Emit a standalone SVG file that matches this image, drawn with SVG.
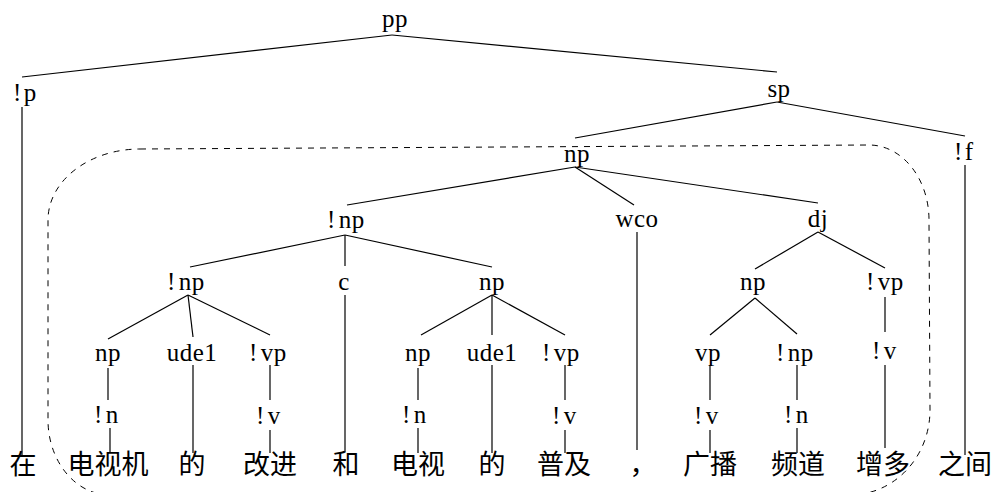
<svg xmlns="http://www.w3.org/2000/svg" width="992" height="492" viewBox="0 0 992 492">
<style>
.lab{font-family:"Liberation Serif","Times New Roman",serif;font-size:25px;fill:#000;letter-spacing:0.5px}
.m{text-anchor:middle}
.zh{font-family:"Noto Sans CJK SC","Noto Sans CJK TC",sans-serif;font-size:27px;fill:#000;text-anchor:middle}
.e line{stroke:#000;stroke-width:1.2}
.box{fill:none;stroke:#000;stroke-width:1;stroke-dasharray:6 6}
</style>
<rect width="992" height="492" fill="#fff"/>
<path class="box" d="M140,149 L870,145 A60,75 0 0 1 929,220 L930,410 A80,85 0 0 1 850,495 L110,495 A62,75 0 0 1 48,420 L48,220 A92,71 0 0 1 140,149 Z"/>
<g id="connectors" class="e">
<line x1="392" y1="35" x2="22" y2="77"/>
<line x1="392" y1="35" x2="777" y2="72"/>
<line x1="22" y1="107" x2="22" y2="455"/>
<line x1="777" y1="102" x2="575" y2="138"/>
<line x1="777" y1="102" x2="965" y2="136"/>
<line x1="965" y1="165" x2="965" y2="455"/>
<line x1="575" y1="167" x2="347" y2="205"/>
<line x1="575" y1="167" x2="634" y2="205"/>
<line x1="575" y1="167" x2="818" y2="203"/>
<line x1="345" y1="235" x2="190" y2="267"/>
<line x1="345" y1="235" x2="345" y2="266"/>
<line x1="345" y1="235" x2="492" y2="267"/>
<line x1="637" y1="232" x2="637" y2="450"/>
<line x1="818" y1="232" x2="755" y2="269"/>
<line x1="818" y1="232" x2="885" y2="268"/>
<line x1="188" y1="295" x2="108" y2="339"/>
<line x1="188" y1="295" x2="193" y2="337"/>
<line x1="188" y1="295" x2="270" y2="335"/>
<line x1="345" y1="295" x2="345" y2="452"/>
<line x1="492" y1="295" x2="421" y2="335"/>
<line x1="492" y1="295" x2="492" y2="335"/>
<line x1="492" y1="295" x2="565" y2="335"/>
<line x1="755" y1="298" x2="710" y2="335"/>
<line x1="755" y1="298" x2="797" y2="334"/>
<line x1="885" y1="297" x2="885" y2="332"/>
<line x1="108" y1="368" x2="108" y2="400"/>
<line x1="193" y1="365" x2="193" y2="453"/>
<line x1="270" y1="365" x2="270" y2="400"/>
<line x1="418" y1="368" x2="418" y2="400"/>
<line x1="492" y1="365" x2="492" y2="453"/>
<line x1="565" y1="365" x2="565" y2="400"/>
<line x1="710" y1="365" x2="710" y2="400"/>
<line x1="797" y1="365" x2="797" y2="400"/>
<line x1="885" y1="365" x2="885" y2="448"/>
<line x1="110" y1="428" x2="110" y2="453"/>
<line x1="270" y1="430" x2="270" y2="453"/>
<line x1="418" y1="428" x2="418" y2="453"/>
<line x1="565" y1="430" x2="565" y2="453"/>
<line x1="710" y1="430" x2="710" y2="453"/>
<line x1="797" y1="428" x2="797" y2="453"/>
</g>
<g id="n-pp"><text class="lab m" x="395" y="27">pp</text></g>
<g id="n-p"><text class="lab" x="13" y="101">!<tspan dx="2">p</tspan></text></g>
<g id="n-sp"><text class="lab m" x="779" y="97">sp</text></g>
<g id="n-f"><text class="lab" x="954" y="160">!<tspan dx="2">f</tspan></text></g>
<g id="n-np1"><text class="lab m" x="577" y="162">np</text></g>
<g id="n-np2"><text class="lab" x="327" y="228">!<tspan dx="3">np</tspan></text></g>
<g id="n-wco"><text class="lab m" x="637" y="227">wco</text></g>
<g id="n-dj"><text class="lab m" x="818" y="227">dj</text></g>
<g id="n-np3"><text class="lab" x="167" y="290">!<tspan dx="3">np</tspan></text></g>
<g id="n-c"><text class="lab m" x="344" y="290">c</text></g>
<g id="n-np4"><text class="lab m" x="492" y="290">np</text></g>
<g id="n-np5"><text class="lab m" x="753" y="290">np</text></g>
<g id="n-vp1"><text class="lab" x="866" y="290">!<tspan dx="3">vp</tspan></text></g>
<g id="n-np6"><text class="lab m" x="108" y="361">np</text></g>
<g id="n-ude1"><text class="lab m" x="192" y="361">ude1</text></g>
<g id="n-vp2"><text class="lab" x="249" y="361">!<tspan dx="3">vp</tspan></text></g>
<g id="n-np7"><text class="lab m" x="418" y="361">np</text></g>
<g id="n-ude2"><text class="lab m" x="492" y="361">ude1</text></g>
<g id="n-vp3"><text class="lab" x="542" y="361">!<tspan dx="3">vp</tspan></text></g>
<g id="n-vp4"><text class="lab m" x="708" y="361">vp</text></g>
<g id="n-np8"><text class="lab" x="776" y="361">!<tspan dx="3">np</tspan></text></g>
<g id="n-v1"><text class="lab" x="872" y="359">!<tspan dx="3">v</tspan></text></g>
<g id="n-n1"><text class="lab" x="94" y="423">!<tspan dx="3">n</tspan></text></g>
<g id="n-v2"><text class="lab" x="256" y="424">!<tspan dx="3">v</tspan></text></g>
<g id="n-n2"><text class="lab" x="402" y="423">!<tspan dx="3">n</tspan></text></g>
<g id="n-v3"><text class="lab" x="552" y="424">!<tspan dx="3">v</tspan></text></g>
<g id="n-v4"><text class="lab" x="694" y="424">!<tspan dx="3">v</tspan></text></g>
<g id="n-n3"><text class="lab" x="784" y="423">!<tspan dx="3">n</tspan></text></g>
<g id="words">
<text class="zh" x="23" y="474">在</text>
<text class="zh" x="108" y="474">电视机</text>
<text class="zh" x="192" y="474">的</text>
<text class="zh" x="270" y="474">改进</text>
<text class="zh" x="346" y="474">和</text>
<text class="zh" x="418" y="474">电视</text>
<text class="zh" x="492" y="474">的</text>
<text class="zh" x="564" y="474">普及</text>
<text class="zh" x="643" y="474">，</text>
<text class="zh" x="710" y="474">广播</text>
<text class="zh" x="798" y="474">频道</text>
<text class="zh" x="883" y="474">增多</text>
<text class="zh" x="965" y="474">之间</text>
</g>
</svg>
